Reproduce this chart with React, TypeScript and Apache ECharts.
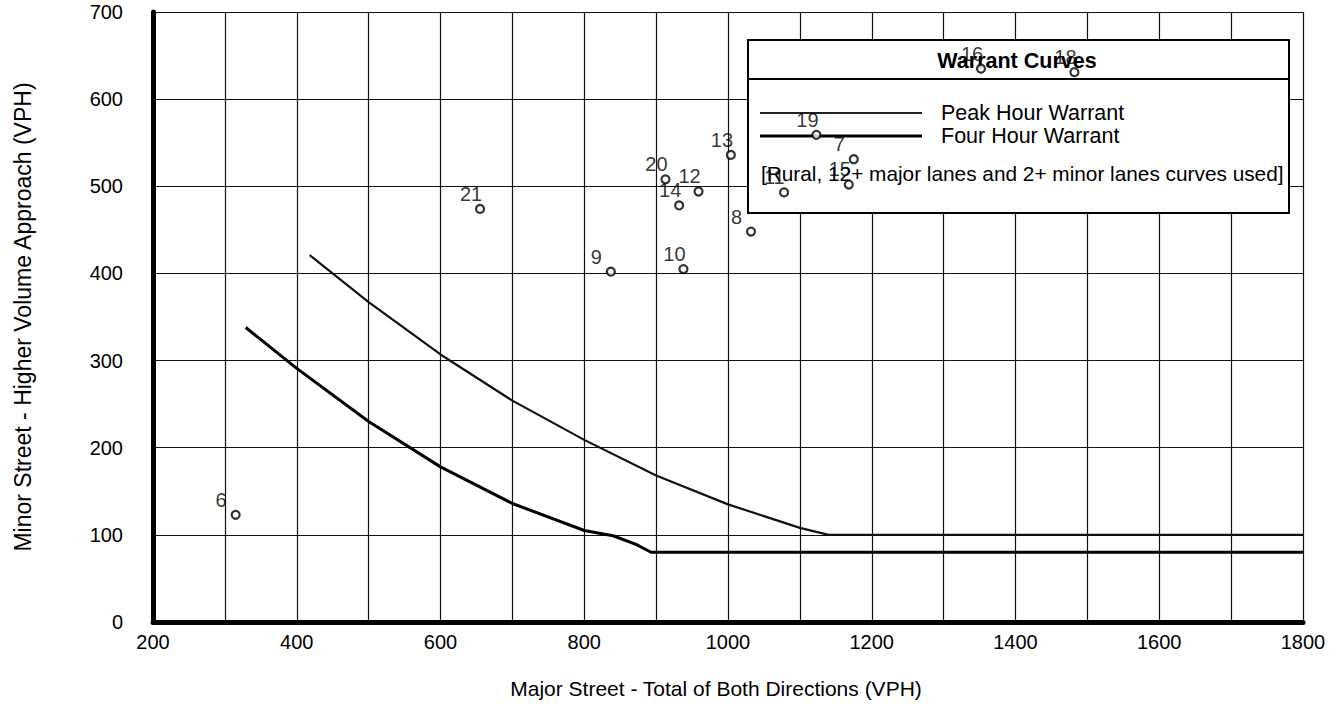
import React, { useEffect, useRef } from "react";
import * as echarts from "echarts";

// ---- data ----
const peakX = [418, 500, 600, 700, 800, 900, 1000, 1100, 1140, 1800];
const peakY = [421, 367, 307, 254, 209, 168, 135, 108, 100, 100];
const fourX = [329, 400, 500, 600, 700, 800, 840, 872, 893, 1800];
const fourY = [338, 291, 230, 178, 136, 105, 99, 89, 80, 80];

const pointLabels = ["6", "21", "9", "10", "20", "14", "12", "13", "8", "11", "7", "15", "19", "16", "18"];
const pointX = [315, 655, 837, 938, 913, 932, 959, 1004, 1032, 1078, 1175, 1168, 1123, 1352, 1482];
const pointY = [123, 474, 402, 405, 508, 478, 494, 536, 448, 493, 531, 502, 559, 635, 631];

const xMin = 200;
const xMax = 1800;
const yMin = 0;
const yMax = 700;

const FONT = "'Liberation Sans', Arial, sans-serif";

export default function App() {
  const ref = useRef<HTMLDivElement>(null);

  useEffect(() => {
    if (!ref.current) return;
    const chart = echarts.init(ref.current, undefined, { renderer: "svg" });

    const peakData = peakX.map((x, i) => [x, peakY[i]]);
    const fourData = fourX.map((x, i) => [x, fourY[i]]);
    const pts = pointX.map((x, i) => ({ value: [x, pointY[i]], name: pointLabels[i] }));

    const option: any = {
      animation: false,
      backgroundColor: "#ffffff",
      textStyle: { fontFamily: FONT },
      grid: { left: 153, right: 33, top: 12, bottom: 81, containLabel: false },
      xAxis: {
        type: "value",
        min: xMin,
        max: xMax,
        interval: 100,
        name: "Major Street - Total of Both Directions (VPH)",
        nameLocation: "middle",
        nameGap: 56,
        nameTextStyle: { fontSize: 21, color: "#000", fontFamily: FONT, padding: [0, 24, 0, 0] },
        axisLine: { show: true, onZero: false, lineStyle: { color: "#000", width: 5 } },
        axisTick: { show: false },
        axisLabel: {
          fontSize: 20,
          color: "#000",
          fontFamily: FONT,
          margin: 10,
          formatter: (v: number) => (v % 200 === 0 ? String(v) : ""),
        },
        splitLine: { show: true, lineStyle: { color: "#111", width: 1.2 } },
      },
      yAxis: {
        type: "value",
        min: yMin,
        max: yMax,
        interval: 100,
        name: "Minor Street - Higher Volume Approach (VPH)",
        nameLocation: "middle",
        nameGap: 119,
        nameTextStyle: { fontSize: 23, color: "#000", fontFamily: FONT },
        axisLine: { show: true, onZero: false, lineStyle: { color: "#000", width: 5 } },
        axisTick: { show: false },
        axisLabel: { fontSize: 20, color: "#000", fontFamily: FONT, margin: 30 },
        splitLine: { show: true, lineStyle: { color: "#111", width: 1.2 } },
      },
      graphic: [
        {
          type: "rect",
          z: 1,
          shape: { x: 748, y: 40, width: 541, height: 173 },
          style: { fill: "#ffffff", stroke: "#000", lineWidth: 2 },
        },
        {
          type: "line",
          z: 2,
          shape: { x1: 748, y1: 79, x2: 1289, y2: 79 },
          style: { stroke: "#000", lineWidth: 2 },
        },
        {
          type: "text",
          z: 2,
          x: 1017,
          y: 61,
          style: {
            text: "Warrant Curves",
            fontSize: 21.5,
            fontWeight: "bold",
            fontFamily: FONT,
            fill: "#000",
            align: "center",
            verticalAlign: "middle",
          },
        },
        {
          type: "line",
          z: 2,
          shape: { x1: 760, y1: 113, x2: 922, y2: 113 },
          style: { stroke: "#222", lineWidth: 2.2 },
        },
        {
          type: "line",
          z: 2,
          shape: { x1: 760, y1: 136, x2: 922, y2: 136 },
          style: { stroke: "#000", lineWidth: 3 },
        },
        {
          type: "text",
          z: 2,
          x: 941,
          y: 113,
          style: {
            text: "Peak Hour Warrant",
            fontSize: 21.5,
            fontFamily: FONT,
            fill: "#000",
            align: "left",
            verticalAlign: "middle",
          },
        },
        {
          type: "text",
          z: 2,
          x: 941,
          y: 136,
          style: {
            text: "Four Hour Warrant",
            fontSize: 21.5,
            fontFamily: FONT,
            fill: "#000",
            align: "left",
            verticalAlign: "middle",
          },
        },
        {
          type: "text",
          z: 2,
          x: 761,
          y: 173,
          style: {
            text: "[Rural, 12+ major lanes and 2+ minor lanes curves used]",
            fontSize: 20.8,
            fontFamily: FONT,
            fill: "#000",
            align: "left",
            verticalAlign: "middle",
          },
        },
      ],
      series: [
        {
          name: "Peak Hour Warrant",
          type: "line",
          data: peakData,
          showSymbol: false,
          symbol: "none",
          smooth: false,
          z: 3,
          lineStyle: { color: "#111", width: 2.2 },
        },
        {
          name: "Four Hour Warrant",
          type: "line",
          data: fourData,
          showSymbol: false,
          symbol: "none",
          smooth: false,
          z: 3,
          lineStyle: { color: "#000", width: 3 },
        },
        {
          name: "Intersections",
          type: "scatter",
          data: pts,
          symbol: "circle",
          symbolSize: 8,
          z: 5,
          itemStyle: { color: "#ffffff", borderColor: "#000", borderWidth: 2.2 },
          label: {
            show: true,
            formatter: "{b}",
            position: [-15, -10],
            align: "left",
            verticalAlign: "middle",
            fontSize: 20,
            fontFamily: FONT,
            color: "#000",
          },
        },
      ],
    };

    chart.setOption(option);
    return () => chart.dispose();
  }, []);

  return (
    <div
      ref={ref}
      style={{ position: "absolute", left: 0, top: 0, width: 1336, height: 704 }}
    />
  );
}
